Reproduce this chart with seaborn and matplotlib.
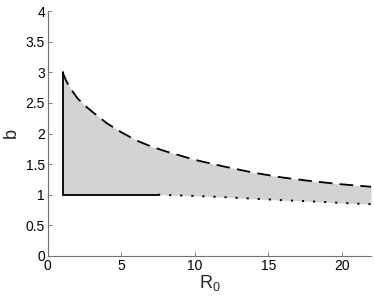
import numpy as np
import matplotlib
matplotlib.use("Agg")
import matplotlib.pyplot as plt
import seaborn as sns
from matplotlib.ticker import FormatStrFormatter

# upper boundary (dashed)
upper_r0 = [1, 1.25, 1.5, 2, 2.5, 3, 4, 5, 6, 7, 8, 10, 12, 14, 16, 18, 20, 22]
upper_b = [3.0, 2.86, 2.75, 2.58, 2.46, 2.36, 2.17, 2.02, 1.89, 1.79, 1.71, 1.57, 1.46, 1.36, 1.28, 1.22, 1.17, 1.13]

# lower boundary: solid part then dotted part
solid_r0 = [1, 7.5]
solid_b = [1.0, 1.0]
dotted_r0 = [7.5, 10, 12, 14, 16, 18, 20, 22]
dotted_b = [1.0, 0.98, 0.96, 0.935, 0.91, 0.89, 0.865, 0.845]

xticks = [0, 5, 10, 15, 20]
yticks = [0, 0.5, 1, 1.5, 2, 2.5, 3, 3.5, 4]


def main():
    sns.set_style("ticks")
    plt.rcParams["font.family"] = ["Liberation Sans", "DejaVu Sans"]
    plt.rcParams["mathtext.fontset"] = "custom"
    plt.rcParams["mathtext.rm"] = "Liberation Sans"
    plt.rcParams["mathtext.it"] = "Liberation Sans"
    plt.rcParams["xtick.direction"] = "in"
    plt.rcParams["ytick.direction"] = "in"

    fig = plt.figure(figsize=(3.74, 3.0), dpi=100)
    ax = fig.add_axes([0.128, 0.147, 0.864, 0.816])

    # shaded feasible region
    lower_r0 = solid_r0 + dotted_r0[1:]
    lower_b = solid_b + dotted_b[1:]
    lower_on_grid = np.interp(upper_r0, lower_r0, lower_b)
    ax.fill_between(upper_r0, lower_on_grid, upper_b, color="#d3d3d3", lw=0, zorder=1)

    sns.lineplot(x=upper_r0, y=upper_b, ax=ax, color="black", lw=1.3,
                 dashes=(7.5, 4), zorder=3)
    sns.lineplot(x=solid_r0, y=solid_b, ax=ax, color="black", lw=1.3, zorder=3)
    sns.lineplot(x=dotted_r0, y=dotted_b, ax=ax, color="black", lw=1.4,
                 dashes=(1.1, 4.6), zorder=3)
    # vertical edge at the first R0 value
    ax.plot([upper_r0[0], upper_r0[0]], [solid_b[0], upper_b[0]],
            color="black", lw=1.3, zorder=3)

    ax.set_xlim(0, 22)
    ax.set_ylim(0, 4)
    ax.set_xticks(xticks)
    ax.set_yticks(yticks)
    ax.yaxis.set_major_formatter(FormatStrFormatter("%g"))
    ax.tick_params(labelsize=10, length=3, width=0.6, color="0.4",
                   labelcolor="black", pad=2)
    sns.despine(ax=ax)
    for side in ["left", "bottom"]:
        ax.spines[side].set_color("0.45")
        ax.spines[side].set_linewidth(0.8)

    ax.set_xlabel("R$_0$", fontsize=13, labelpad=0)
    ax.set_ylabel("b", fontsize=13, labelpad=4)

    fig.savefig("out.png", dpi=100)
    plt.close(fig)


if __name__ == "__main__":
    main()
